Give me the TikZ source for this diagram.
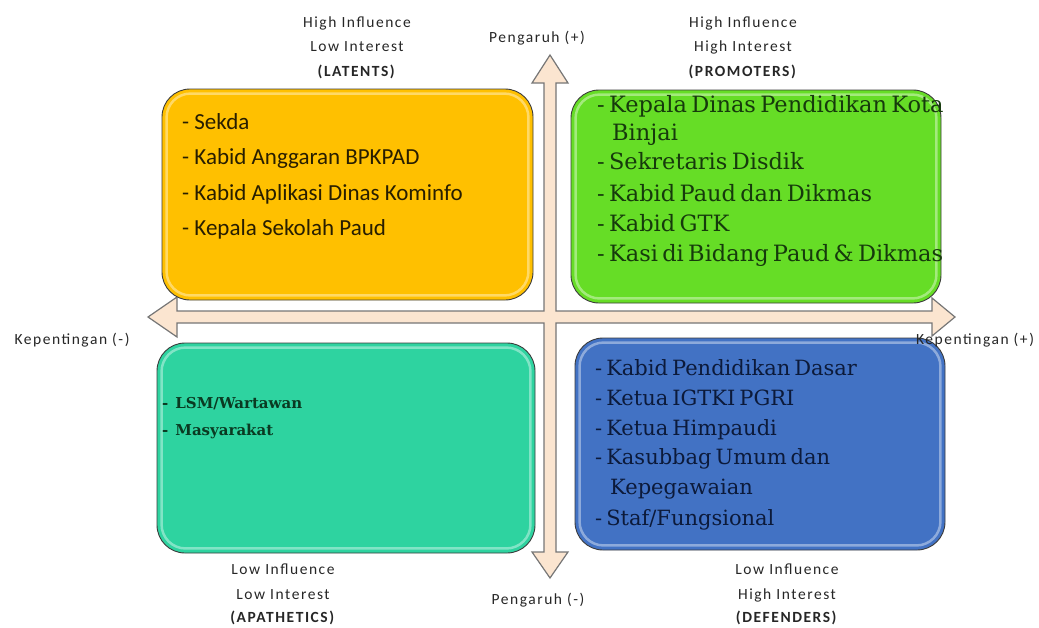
\documentclass[tikz,border=0pt]{standalone}
\usepackage{fontspec}
\setmainfont{Carlito}
\newfontfamily\axisfont[LetterSpace=10]{Carlito}
\newfontfamily\listserif[WordSpace=0.6]{DejaVu Serif}
\definecolor{latfill}{RGB}{255,192,0}
\definecolor{profill}{RGB}{102,221,38}
\definecolor{apafill}{RGB}{46,211,160}
\definecolor{deffill}{RGB}{66,114,196}
\definecolor{arrowfill}{RGB}{251,229,208}
\definecolor{arrowline}{RGB}{118,118,118}
\definecolor{boxline}{RGB}{60,60,60}
\definecolor{lattext}{RGB}{40,30,0}
\definecolor{protext}{RGB}{22,58,12}
\definecolor{deftext}{RGB}{12,26,58}
\definecolor{apatext}{RGB}{10,58,34}
\tikzset{
  quad/.style={draw=boxline, line width=0.9pt, rounded corners=28pt, minimum width=#1, inner sep=0pt},
  gloss/.style={draw=white, draw opacity=0.4, line width=2.5pt, rounded corners=24pt},
  axislabel/.style={font=\axisfont\fontsize{15.5}{18}\selectfont, text=black!85, inner sep=0pt, anchor=base},
  latitem/.style={font=\fontsize{23}{27}\selectfont, text=lattext, inner sep=0pt, anchor=base west},
  proitem/.style={font=\listserif\fontsize{22.5}{26}\selectfont, text=protext, inner sep=0pt, anchor=base west},
  defitem/.style={font=\listserif\fontsize{21}{25}\selectfont, text=deftext, inner sep=0pt, anchor=base west},
  apaitem/.style={font=\listserif\bfseries\fontsize{15}{18}\selectfont, text=apatext, inner sep=0pt, anchor=base west},
}
\begin{document}
\begin{tikzpicture}[x=1pt, y=-1pt]
\useasboundingbox (0,0) rectangle (1039,627);

% four-way arrow: influence (vertical) and interest (horizontal)
\draw[fill=arrowfill, draw=arrowline, line width=1.2pt, line join=miter]
  (550,55) -- (568,83) -- (556,83) -- (556,311) -- (932,311) -- (932,298)
  -- (955,317) -- (932,336) -- (932,323) -- (556,323) -- (556,552)
  -- (568,552) -- (550,578) -- (532,552) -- (544,552) -- (544,323)
  -- (177,323) -- (177,337) -- (148,317) -- (177,297) -- (177,311)
  -- (544,311) -- (544,83) -- (532,83) -- cycle;

% quadrant boxes
\node[quad=371pt, minimum height=211pt, fill=latfill] (lat) at (347.5,194.5) {};
\node[quad=370pt, minimum height=213pt, fill=profill] (pro) at (756,196.5) {};
\node[quad=378pt, minimum height=210pt, fill=apafill] (apa) at (346,448) {};
\node[quad=370pt, minimum height=212pt, fill=deffill] (def) at (760,444) {};
\foreach \b in {lat,pro,apa,def}{
  \draw[gloss] ([shift={(5pt,5pt)}]\b.south west) rectangle ([shift={(-5pt,-5pt)}]\b.north east);
}

% LATENTS
\node[latitem] (lat1) at (182,129) {- Sekda};
\node[latitem] (lat2) at (182,164) {- Kabid Anggaran BPKPAD};
\node[latitem] (lat3) at (182,200) {- Kabid Aplikasi Dinas Kominfo};
\node[latitem] (lat4) at (182,235) {- Kepala Sekolah Paud};

% PROMOTERS
\node[proitem] (pro1) at (597,112) {- Kepala Dinas Pendidikan Kota};
\node[proitem] (pro2) at (612,140) {Binjai};
\node[proitem] (pro3) at (597,169) {- Sekretaris Disdik};
\node[proitem] (pro4) at (597,201) {- Kabid Paud dan Dikmas};
\node[proitem] (pro5) at (597,231) {- Kabid GTK};
\node[proitem] (pro6) at (597,261) {- Kasi di Bidang Paud \& Dikmas};

% APATHETICS
\node[apaitem] (apa1) at (162,408) {-\hspace{7pt}LSM/Wartawan};
\node[apaitem] (apa2) at (162,435) {-\hspace{7pt}Masyarakat};

% DEFENDERS
\node[defitem] (def1) at (595,375) {- Kabid Pendidikan Dasar};
\node[defitem] (def2) at (595,405) {- Ketua IGTKI PGRI};
\node[defitem] (def3) at (595,435) {- Ketua Himpaudi};
\node[defitem] (def4) at (595,464) {- Kasubbag Umum dan};
\node[defitem] (def5) at (610,494) {Kepegawaian};
\node[defitem] (def6) at (595,525) {- Staf/Fungsional};

% quadrant captions
\node[axislabel] (latA) at (357,27) {High Influence};
\node[axislabel] (latB) at (357,51) {Low Interest};
\node[axislabel] (latC) at (357,76) {\textbf{(LATENTS)}};
\node[axislabel] (proA) at (743,27) {High Influence};
\node[axislabel] (proB) at (743,51) {High Interest};
\node[axislabel] (proC) at (743,76) {\textbf{(PROMOTERS)}};
\node[axislabel] (apaA) at (283,574) {Low Influence};
\node[axislabel] (apaB) at (283,599) {Low Interest};
\node[axislabel] (apaC) at (283,622) {\textbf{(APATHETICS)}};
\node[axislabel] (defA) at (787,574) {Low Influence};
\node[axislabel] (defB) at (787,599) {High Interest};
\node[axislabel] (defC) at (787,622) {\textbf{(DEFENDERS)}};

% axis captions
\node[axislabel] (infHi) at (537,42) {Pengaruh (+)};
\node[axislabel] (infLo) at (538,604) {Pengaruh (-)};
\node[axislabel] (intLo) at (72,344) {Kepentingan (-)};
\node[axislabel] (intHi) at (975,344) {Kepentingan (+)};
\end{tikzpicture}
\end{document}
